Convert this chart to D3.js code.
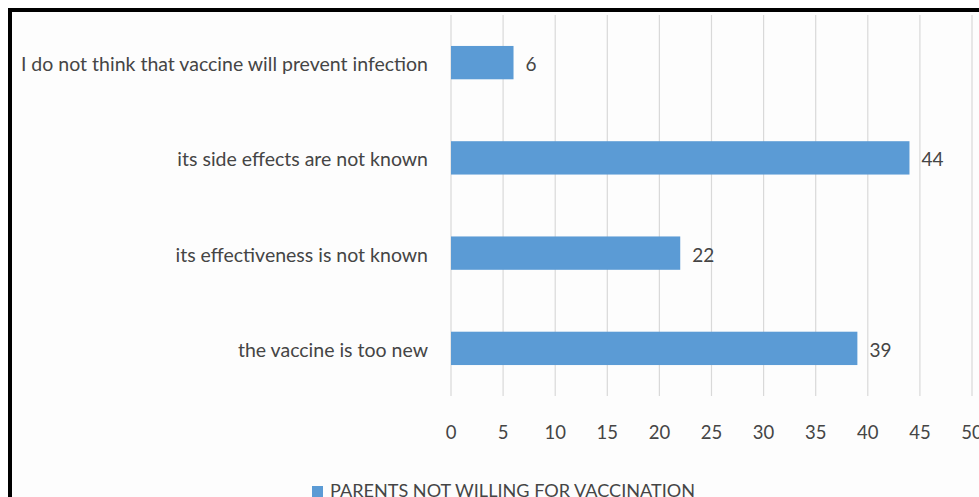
<!DOCTYPE html>
<html>
<head>
<meta charset="utf-8">
<script src="https://cdn.jsdelivr.net/npm/d3@7"></script>
<style>
  body { margin: 0; background: #fff; }
  svg { display: block; }
  text { font-family: Lato, "Open Sans", sans-serif; fill: #454545; }
</style>
</head>
<body>
<div id="main"></div>
<script>
const categories = [
    "I do not think that vaccine will prevent infection",
    "its side effects are not known",
    "its effectiveness is not known",
    "the vaccine is too new"
];
const values = [6, 44, 22, 39];
const ticks = [0, 5, 10, 15, 20, 25, 30, 35, 40, 45, 50];
const seriesName = "PARENTS NOT WILLING FOR VACCINATION";

const width = 979, height = 497;
const svg = d3.select("#main").append("svg")
    .attr("width", width)
    .attr("height", height);

// chart area background + black frame (cropped at right and bottom)
svg.append("rect")
    .attr("x", 10).attr("y", 10)
    .attr("width", width).attr("height", height)
    .attr("fill", "#fdfdfd")
    .attr("stroke", "#000")
    .attr("stroke-width", 4);

const x = d3.scaleLinear().domain([0, 50]).range([451, 972]);
const y = d3.scaleBand().domain(categories).range([15, 396]).paddingInner(0.65).paddingOuter(0.325);

// gridlines
svg.append("g")
    .selectAll("line")
    .data(ticks)
    .enter()
    .append("line")
    .attr("x1", d => x(d)).attr("x2", d => x(d))
    .attr("y1", 15).attr("y2", 396)
    .attr("stroke", "#d9d9d9")
    .attr("stroke-width", 1.2);

// tick labels
svg.append("g")
    .selectAll("text")
    .data(ticks)
    .enter()
    .append("text")
    .attr("x", d => x(d))
    .attr("y", 432)
    .attr("text-anchor", "middle")
    .attr("dominant-baseline", "central")
    .attr("font-size", 18.5)
    .text(d => d);

// bars
svg.append("g")
    .selectAll("rect")
    .data(values)
    .enter()
    .append("rect")
    .attr("x", x(0))
    .attr("y", (d, i) => y(categories[i]))
    .attr("width", d => x(d) - x(0))
    .attr("height", y.bandwidth())
    .attr("fill", "#5b9bd5");

// value labels
svg.append("g")
    .selectAll("text")
    .data(values)
    .enter()
    .append("text")
    .attr("x", d => x(d) + 12)
    .attr("y", (d, i) => y(categories[i]) + y.bandwidth() / 2 + 1)
    .attr("dominant-baseline", "central")
    .attr("font-size", 19)
    .text(d => d);

// category labels
svg.append("g")
    .selectAll("text")
    .data(categories)
    .enter()
    .append("text")
    .attr("x", 428)
    .attr("y", d => y(d) + y.bandwidth() / 2 + 1)
    .attr("text-anchor", "end")
    .attr("dominant-baseline", "central")
    .attr("font-size", 19.5)
    .text(d => d);

// legend (sits on the bottom edge, as in the cropped original)
const legend = svg.append("g");
legend.append("rect")
    .attr("x", 312).attr("y", 486)
    .attr("width", 11).attr("height", 11)
    .attr("fill", "#5b9bd5");
legend.append("text")
    .attr("x", 330).attr("y", 496.5)
    .attr("font-size", 17)
    .attr("textLength", 365)
    .attr("lengthAdjust", "spacingAndGlyphs")
    .text(seriesName);
</script>
</body>
</html>
